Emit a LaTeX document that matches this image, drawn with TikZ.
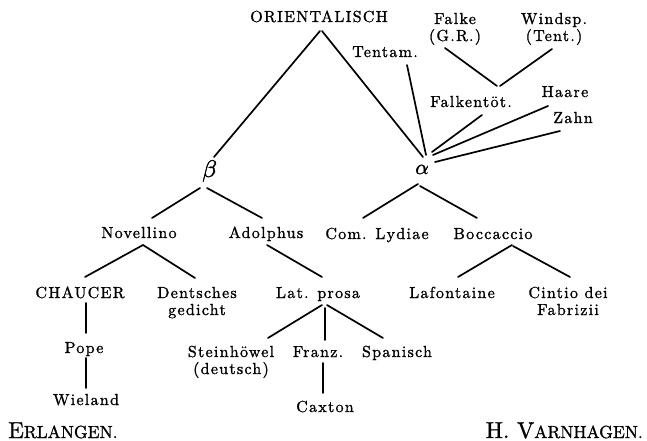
\documentclass[tikz,border=0pt]{standalone}
\usepackage{fontspec}
\setmainfont{lmroman10-regular.otf}[LetterSpace=8, FakeBold=1.2]
\newfontfamily\plainfont{lmroman10-regular.otf}[FakeBold=1.0]
\newfontfamily\greekfont{latinmodern-math.otf}[FakeBold=1.6]
\tikzset{
  lbl/.style={anchor=base, inner sep=0pt, font=\fontsize{16}{17}\selectfont, align=center},
  greek/.style={anchor=base, inner sep=0pt, font=\greekfont\fontsize{21}{21}\selectfont},
  sig/.style={anchor=base, inner sep=0pt},
  link/.style={line width=1.7pt, line cap=round}
}
\newcommand{\fakesc}[2]{{\plainfont\fontsize{23}{23}\selectfont #1\fontsize{17.5}{17.5}\selectfont #2}}
\begin{document}
\begin{tikzpicture}[x=1pt,y=-1pt]
\useasboundingbox (0,0) rectangle (647,441);
% nodes (two-line nodes: base = baseline of the last line)
\node[lbl] (orient) at (319,22) {ORIENTALISCH};
\node[lbl] (falke) at (455,41) {Falke\\(G.R.)};
\node[lbl] (windsp) at (554,41) {Windsp.\\(Tent.)};
\node[lbl] (tentam) at (385,57) {Tentam.};
\node[lbl] (falkentot) at (471,107) {Falkentöt.};
\node[lbl] (haare) at (565,97) {Haare};
\node[lbl] (zahn) at (573,123) {Zahn};
\node[greek] (alpha) at (422,174) {𝛼};
\node[greek, font=\greekfont\fontsize{24}{24}\selectfont] (beta) at (209,177) {𝛽};
\node[lbl] (novellino) at (139,238) {Novellino};
\node[lbl] (adolphus) at (266,238) {Adolphus};
\node[lbl] (comlyd) at (377,239) {Com. Lydiae};
\node[lbl] (bocc) at (493,239) {Boccaccio};
\node[lbl] (chaucer) at (80,298) {CHAUCER};
\node[lbl] (dents) at (197,315) {Dentsches\\gedicht};
\node[lbl] (latprosa) at (318,298) {Lat. prosa};
\node[lbl] (lafont) at (452,298) {Lafontaine};
\node[lbl] (cintio) at (568,315) {Cintio dei\\Fabrizii};
\node[lbl] (pope) at (84,353) {Pope};
\node[lbl] (wieland) at (86,405) {Wieland};
\node[lbl] (stein) at (231,374) {Steinhöwel\\(deutsch)};
\node[lbl] (franz) at (318,357) {Franz.};
\node[lbl] (span) at (397,357) {Spanisch};
\node[lbl] (caxton) at (325,412) {Caxton};
\node[sig, anchor=base west] (erl) at (8,438) {\fakesc{E}{RLANGEN.}};
\node[sig, anchor=base east] (varn) at (643,438) {\fakesc{H. V}{ARNHAGEN.}};
% connectors
\draw[link] ([shift={(1,9)}]orient.base) -- ([shift={(5,-20)}]beta.base);
\draw[link] ([shift={(3,9)}]orient.base) -- ([shift={(1,-17)}]alpha.base);
\draw[link] ([shift={(22,8)}]tentam.base) -- ([shift={(4,-19)}]alpha.base);
\draw[link] ([shift={(-10,7)}]falke.base) -- ([shift={(26,-21)}]falkentot.base);
\draw[link] ([shift={(-2,8)}]windsp.base) -- ([shift={(29,-21)}]falkentot.base);
\draw[link] ([shift={(11,8)}]falkentot.base) -- ([shift={(10,-22)}]alpha.base);
\draw[link] ([shift={(-17,9)}]haare.base) -- ([shift={(11,-19)}]alpha.base);
\draw[link] ([shift={(-13,8)}]zahn.base) -- ([shift={(13,-12)}]alpha.base);
\draw[link] ([shift={(-9,11)}]beta.base) -- ([shift={(13,-20)}]novellino.base);
\draw[link] ([shift={(-2,11)}]beta.base) -- ([shift={(-4,-20)}]adolphus.base);
\draw[link] ([shift={(-4,10)}]alpha.base) -- ([shift={(-14,-21)}]comlyd.base);
\draw[link] ([shift={(-2,12)}]alpha.base) -- ([shift={(-16,-21)}]bocc.base);
\draw[link] ([shift={(4,7)}]novellino.base) -- ([shift={(5,-21)}]chaucer.base);
\draw[link] ([shift={(4,7)}]novellino.base) -- ([shift={(-2,-37)}]dents.base);
\draw[link] ([shift={(1,7)}]adolphus.base) -- ([shift={(4,-21)}]latprosa.base);
\draw[link] ([shift={(19,6)}]bocc.base) -- ([shift={(6,-21)}]lafont.base);
\draw[link] ([shift={(20,7)}]bocc.base) -- ([shift={(2,-38)}]cintio.base);
\draw[link] ([shift={(6,5)}]chaucer.base) -- ([shift={(2,-20)}]pope.base);
\draw[link] ([shift={(2,5)}]pope.base) -- ([shift={(0,-17)}]wieland.base);
\draw[link] ([shift={(4,7)}]latprosa.base) -- ([shift={(37,-36)}]stein.base);
\draw[link] ([shift={(7,10)}]latprosa.base) -- ([shift={(7,-17)}]franz.base);
\draw[link] ([shift={(9,7)}]latprosa.base) -- ([shift={(-14,-19)}]span.base);
\draw[link] ([shift={(5,6)}]franz.base) -- ([shift={(-2,-19)}]caxton.base);
\end{tikzpicture}
\end{document}
